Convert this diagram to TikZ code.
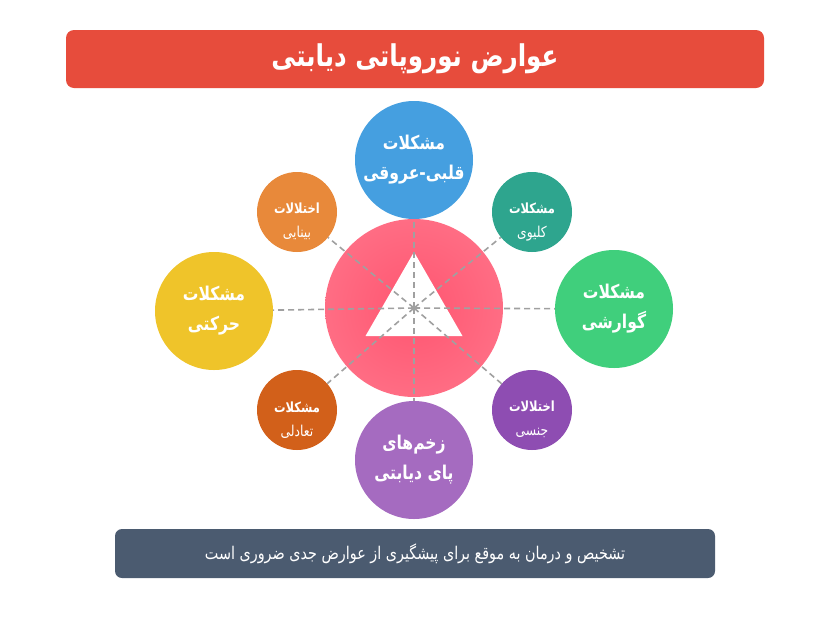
\documentclass[tikz,border=0pt]{standalone}
\usepackage{fontspec}
\usepackage{tikz}
\usetikzlibrary{shapes.geometric}
\usetikzlibrary{positioning}
\newfontfamily\fa[Script=Arabic,FakeStretch=0.82]{DejaVu Sans}
\TeXXeTstate=1
\newcommand{\twolines}[2]{\rule{0pt}{30pt}{\bfseries\beginR #1\endR}\\{\fontsize{15}{24}\selectfont\beginR #2\endR}}
\definecolor{titlered}{HTML}{E74C3C}
\definecolor{notegray}{HTML}{4B5B70}
\definecolor{coreink}{HTML}{FF5570}
\definecolor{coreedge}{HTML}{FF6D84}
\definecolor{heartblue}{HTML}{459FE0}
\definecolor{eyeorange}{HTML}{E8893A}
\definecolor{kidneyteal}{HTML}{2EA58E}
\definecolor{moveyellow}{HTML}{EFC42A}
\definecolor{gutgreen}{HTML}{40CF7C}
\definecolor{balanceorange}{HTML}{D2601A}
\definecolor{sexpurple}{HTML}{8E4DB2}
\definecolor{footpurple}{HTML}{A56BC0}
\definecolor{linegray}{HTML}{A0A0A0}

\begin{document}
\begin{tikzpicture}[x=1pt,y=-1pt,
    big node/.style={circle,inner sep=0pt,minimum size=118pt,text=white,align=center,font=\fa\bfseries\fontsize{19}{30}\selectfont},
    small node/.style={circle,inner sep=0pt,minimum size=80pt,text=white,align=center,font=\fa\fontsize{14}{24}\selectfont},
    dash line/.style={-,draw=linegray,line width=1.6pt,dash pattern=on 6pt off 4pt}]
   \useasboundingbox[fill=white] (0,0) rectangle (838,627);
   % title and note bars
   \node[fill=titlered,rounded corners=8pt,minimum width=698pt,minimum height=58pt,text=white,font=\fa\bfseries\fontsize{30}{34}\selectfont] (title) at (415,59) {\beginR عوارض نوروپاتی دیابتی\endR};
   \node[fill=notegray,rounded corners=7pt,minimum width=600pt,minimum height=49pt,text=white,font=\fa\fontsize{17.5}{20}\selectfont] (note) at (415,553.5) {\beginR تشخیص و درمان به موقع برای پیشگیری از عوارض جدی ضروری است\endR};
   % centre
   \node[circle,minimum size=178pt,inner sep=0pt,inner color=coreink,outer color=coreedge] (core) at (414,308) {};
   \node[regular polygon,regular polygon sides=3,minimum size=112pt,inner sep=0pt,fill=white] (tri) at (414,308) {};
   % outer circles
   \node[big node,fill=heartblue] (top) at (414,160) {\beginR مشکلات\endR\\\beginR قلبی-عروقی\endR};
   \node[big node,fill=footpurple] (bottom) at (414,460) {\beginR زخم‌های\endR\\\beginR پای دیابتی\endR};
   \node[big node,fill=moveyellow] (left) at (214,311) {\beginR مشکلات\endR\\\beginR حرکتی\endR};
   \node[big node,fill=gutgreen] (right) at (614,309) {\beginR مشکلات\endR\\\beginR گوارشی\endR};
   \node[small node,fill=eyeorange] (tl) at (297,212) {\twolines{اختلالات}{بینایی}};
   \node[small node,fill=kidneyteal] (tr) at (532,212) {\twolines{مشکلات}{کلیوی}};
   \node[small node,fill=balanceorange] (bl) at (297,410) {\twolines{مشکلات}{تعادلی}};
   \node[small node,fill=sexpurple] (br) at (532,410) {\twolines{اختلالات}{جنسی}};
   % spokes
   \foreach \n in {top,bottom,left,right,tl,tr,bl,br}
      \path[dash line] (core.center) edge (\n);
\end{tikzpicture}
\end{document}
